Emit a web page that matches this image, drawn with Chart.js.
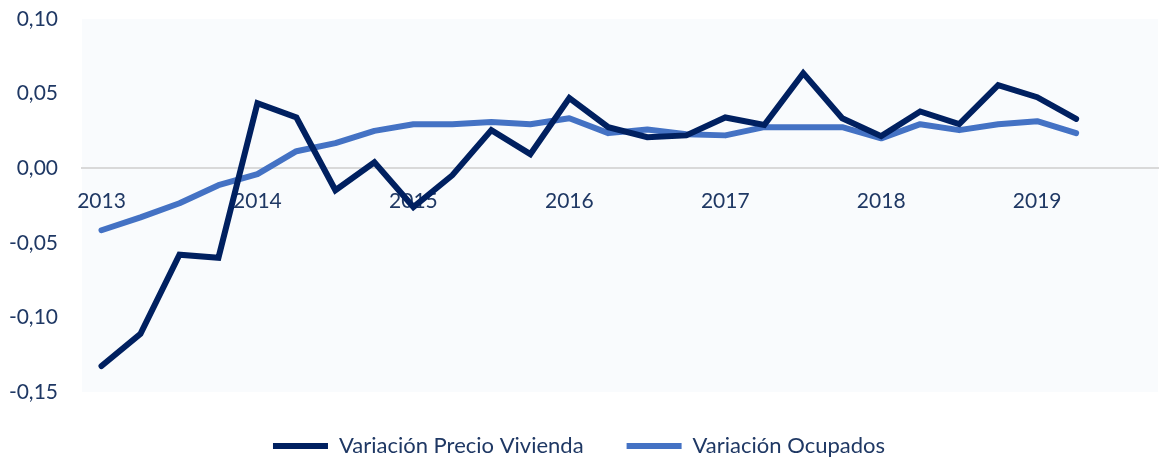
<!DOCTYPE html>
<html>
<head>
<meta charset="utf-8">
<script src="https://cdn.jsdelivr.net/npm/chart.js@4/dist/chart.umd.min.js"></script>
<style>
  html, body { margin: 0; padding: 0; background: #ffffff; overflow: hidden; }
  #wrap { width: 1159px; height: 467px; }
</style>
</head>
<body>
<div id="wrap"><canvas id="c" width="1159" height="467"></canvas></div>
<script>
// Quarterly data 2013Q1 .. 2019Q2
const quarters = ["2013T1","2013T2","2013T3","2013T4","2014T1","2014T2","2014T3","2014T4",
  "2015T1","2015T2","2015T3","2015T4","2016T1","2016T2","2016T3","2016T4",
  "2017T1","2017T2","2017T3","2017T4","2018T1","2018T2","2018T3","2018T4",
  "2019T1","2019T2"];
const yearLabels = ["2013","2014","2015","2016","2017","2018","2019"];
const precioVivienda = [-0.1326,-0.111,-0.058,-0.060,0.0436,0.034,-0.0148,0.004,
  -0.026,-0.0047,0.0255,0.0094,0.047,0.0275,0.0208,0.022,
  0.034,0.029,0.0637,0.0335,0.0215,0.038,0.0295,0.0557,
  0.0476,0.033];
const ocupados = [-0.0416,-0.033,-0.0235,-0.0114,-0.004,0.0114,0.0168,0.025,
  0.0295,0.0295,0.031,0.0295,0.0335,0.0235,0.026,0.0228,
  0.022,0.0275,0.0275,0.0275,0.020,0.0295,0.0255,0.0295,
  0.0315,0.0235];
const yTicks = [-0.15,-0.10,-0.05,0.00,0.05,0.10];

const FONT = "Lato, 'Open Sans', sans-serif";
const TEXT = "#1F3864";

const bgPlugin = {
  id: 'plotBg',
  beforeDraw(chart) {
    const {ctx, chartArea: a} = chart;
    ctx.save();
    ctx.fillStyle = '#f9fbfd';
    ctx.fillRect(a.left, a.top, a.right - a.left, a.bottom - a.top);
    ctx.restore();
  }
};

new Chart(document.getElementById('c'), {
  type: 'line',
  data: {
    datasets: [
      {
        label: 'Variación Precio Vivienda',
        data: precioVivienda.map((v, i) => ({x: i, y: v})),
        borderColor: '#002060',
        backgroundColor: '#002060',
        borderWidth: 6,
        pointRadius: 0,
        pointStyle: 'line',
        tension: 0,
        borderCapStyle: 'round',
        borderJoinStyle: 'miter'
      },
      {
        label: 'Variación Ocupados',
        data: ocupados.map((v, i) => ({x: i, y: v})),
        borderColor: '#4472C4',
        backgroundColor: '#4472C4',
        borderWidth: 6,
        pointRadius: 0,
        pointStyle: 'line',
        tension: 0,
        borderCapStyle: 'round',
        borderJoinStyle: 'round'
      }
    ]
  },
  options: {
    responsive: false,
    animation: false,
    layout: { padding: { top: 19, right: 1, left: 0, bottom: 0 } },
    plugins: {
      tooltip: { enabled: false },
      legend: {
        position: 'bottom',
        labels: {
          usePointStyle: true,
          pointStyle: 'line',
          pointStyleWidth: 55,
          boxHeight: 6,
          padding: 43,
          color: TEXT,
          font: { family: FONT, size: 22 }
        }
      }
    },
    scales: {
      x: {
        type: 'linear',
        position: { y: 0 },
        min: -0.5,
        max: 27.1,
        afterBuildTicks(scale) {
          scale.ticks = yearLabels.map((_, k) => ({ value: k * 4 }));
        },
        ticks: {
          autoSkip: false,
          maxRotation: 0,
          padding: 20,
          color: TEXT,
          font: { family: FONT, size: 21 },
          callback: (v) => yearLabels[Math.round(v / 4)] || ''
        },
        grid: { display: false, drawTicks: false },
        border: { display: true, color: '#d9d9d9', width: 2 }
      },
      y: {
        min: -0.15,
        max: 0.10,
        afterBuildTicks(scale) {
          scale.ticks = yTicks.map(v => ({ value: v }));
        },
        afterFit(scale) {
          scale.width = 82;
          scale.paddingTop = 0;
          scale.paddingBottom = 0;
        },
        ticks: {
          padding: 24,
          color: TEXT,
          font: { family: FONT, size: 21 },
          callback: (v) => v.toFixed(2).replace('.', ',')
        },
        grid: { display: false, drawTicks: false },
        border: { display: false }
      }
    }
  },
  plugins: [bgPlugin]
});
</script>
</body>
</html>
